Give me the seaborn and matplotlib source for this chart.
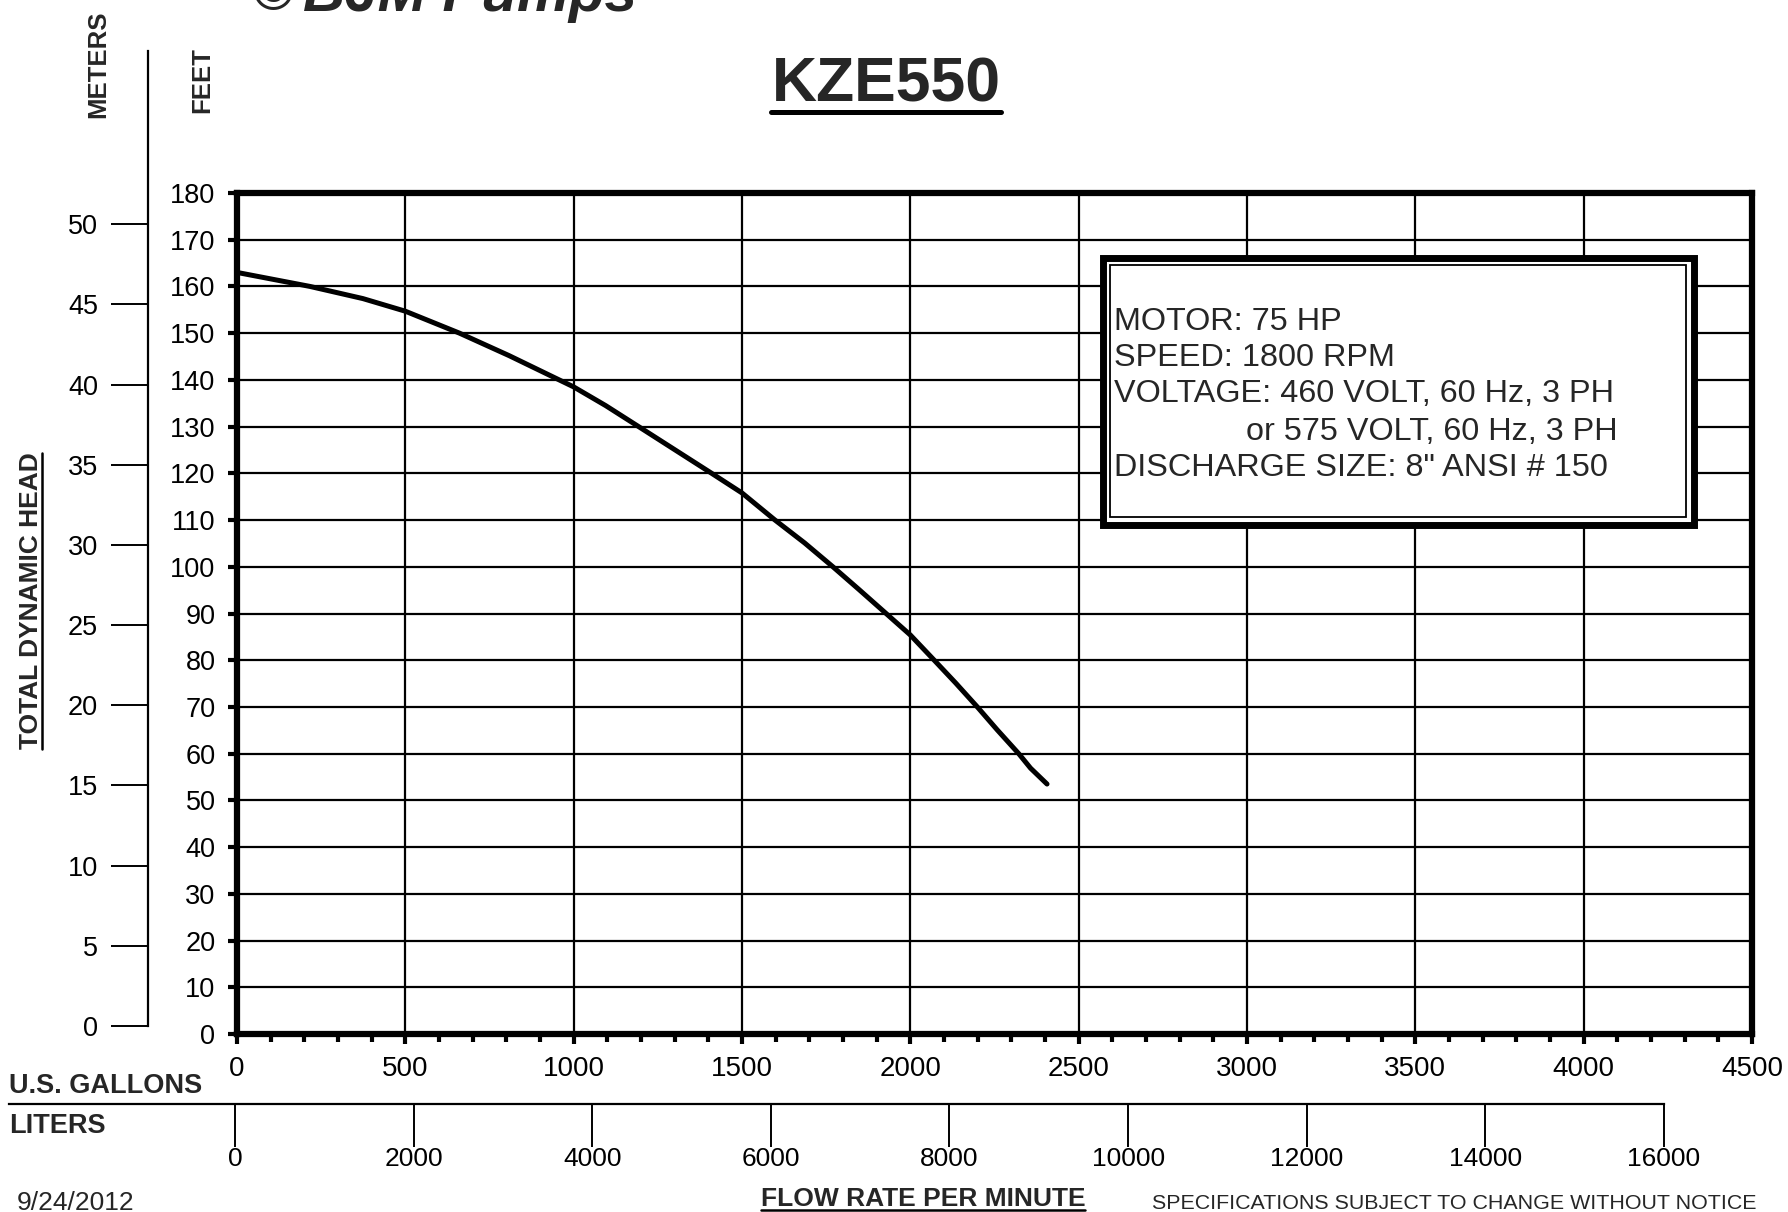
import matplotlib
matplotlib.use("Agg")
import matplotlib.pyplot as plt
from matplotlib import font_manager
from matplotlib.lines import Line2D
from matplotlib.patches import Rectangle
from matplotlib.ticker import MultipleLocator
import seaborn as sns

# pump curve (US gpm vs feet of head)
flow_gpm = [0, 217, 374, 500, 661, 808, 957, 1000, 1095, 1193, 1410, 1500,
            1598, 1686, 1770, 1848, 1928, 2000, 2071, 2135, 2199, 2258,
            2322, 2357, 2406]
head_ft = [163.0, 160.0, 157.4, 154.7, 150.0, 145.2, 140.0, 138.5, 134.5,
           130.0, 120.0, 115.8, 110.0, 105.1, 100.0, 95.1, 90.0, 85.4, 80.0,
           75.1, 70.0, 65.1, 60.0, 56.9, 53.5]

gal_ticks = list(range(0, 4501, 500))
feet_ticks = list(range(0, 181, 10))
meter_ticks = list(range(0, 51, 5))
liter_ticks = list(range(0, 16001, 2000))

title = "KZE550"
spec_lines = ["MOTOR: 75 HP", "SPEED: 1800 RPM", "VOLTAGE: 460 VOLT, 60 Hz, 3 PH",
              "or 575 VOLT, 60 Hz, 3 PH", "DISCHARGE SIZE: 8\" ANSI # 150"]

W, H = 1788, 1212
sns.set_style("white")
plt.rcParams["font.family"] = ["Liberation Sans", "DejaVu Sans"]

names = {f.name for f in font_manager.fontManager.ttflist}
if "Liberation Sans Narrow" in names:
    NARROW, nscale = ["Liberation Sans Narrow", "Liberation Sans"], 1.15
else:
    NARROW, nscale = ["Liberation Sans", "DejaVu Sans"], 1.0


def fx(px):
    return px / W


def fy(py):
    return 1 - py / H


fig = plt.figure(figsize=(W / 100, H / 100), dpi=100)

# ── main chart ──────────────────────────────────────────────────────────────
ax = fig.add_axes([fx(237), fy(1034), fx(1752) - fx(237), fy(193) - fy(1034)])
sns.lineplot(x=flow_gpm, y=head_ft, ax=ax, color="black", lw=3.6, sort=True)
ax.set_xlim(0, 4500)
ax.set_ylim(0, 180)
ax.set_xticks(gal_ticks)
ax.set_yticks(feet_ticks)
ax.xaxis.set_minor_locator(MultipleLocator(100))
ax.grid(True, which="major", color="black", lw=1.6)
for s in ax.spines.values():
    s.set_linewidth(4.5)
    s.set_color("black")
ax.tick_params(axis="y", left=True, direction="out", length=6.5, width=3, pad=9,
               labelsize=19.5, colors="black")
ax.tick_params(axis="x", which="major", bottom=True, direction="out", length=7, width=3, pad=9,
               labelsize=20 * nscale, colors="black")
ax.tick_params(axis="x", which="minor", bottom=True, direction="out", length=6, width=3, colors="black")
for lab in ax.get_xticklabels():
    lab.set_family(NARROW)
ax.set_xlabel("")
ax.set_ylabel("")

# spec box
fig.add_artist(Rectangle((fx(1102.5), fy(524.5)), fx(1693.5) - fx(1102.5), fy(257.5) - fy(524.5),
                         transform=fig.transFigure, facecolor="white", edgecolor="black", lw=5, zorder=3))
fig.add_artist(Rectangle((fx(1110), fy(517)), fx(1686) - fx(1110), fy(265) - fy(517),
                         transform=fig.transFigure, facecolor="none", edgecolor="black", lw=1.3, zorder=4))
box_x = [1114, 1114, 1114, 1246, 1114]
box_y = [318, 355, 391, 429, 465]
for txt, bx, by in zip(spec_lines, box_x, box_y):
    fig.text(fx(bx), fy(by + 11.5), txt, fontsize=23.3, ha="left", va="baseline", zorder=5)

# ── meters scale ────────────────────────────────────────────────────────────
axm = fig.add_axes([fx(148), fy(1026), 0.01, fy(51) - fy(1026)])
axm.set_facecolor("none")
axm.set_ylim(0, 60.8)
axm.set_yticks(meter_ticks)
axm.set_xticks([])
for k in ["top", "right", "bottom"]:
    axm.spines[k].set_visible(False)
axm.spines["left"].set_linewidth(1.6)
axm.spines["left"].set_color("black")
axm.tick_params(axis="y", left=True, direction="out", length=27, width=1.4, pad=9,
                labelsize=19.5, colors="black")

# ── liters scale ────────────────────────────────────────────────────────────
axl = fig.add_axes([fx(9), fy(1135), fx(1664) - fx(9), fy(1104) - fy(1135)])
axl.set_facecolor("none")
axl.set_xlim(-16000 * (235 - 9) / (1664 - 235), 16000)
axl.set_xticks(liter_ticks)
axl.set_yticks([])
for k in ["left", "right", "bottom"]:
    axl.spines[k].set_visible(False)
axl.spines["top"].set_linewidth(1.6)
axl.spines["top"].set_color("black")
axl.tick_params(axis="x", top=True, bottom=False, labeltop=False, labelbottom=True,
                direction="in", length=31, width=1.4, pad=9, labelsize=19 * nscale, colors="black")
for lab in axl.get_xticklabels():
    lab.set_family(NARROW)

# ── texts ───────────────────────────────────────────────────────────────────
fig.text(fx(303), fy(11), "BJM Pumps", fontsize=42, fontweight="bold", fontstyle="italic",
         ha="left", va="baseline")
fig.text(fx(252), fy(10), "\u00a9", fontsize=40, fontweight="bold", ha="left", va="baseline")

t_title = fig.text(fx(886), fy(102), title, fontsize=45, fontweight="bold", ha="center", va="baseline")
fig.text(fx(98), fy(64), "METERS", fontsize=18.5, fontweight="bold", rotation=90, ha="center", va="center")
fig.text(fx(202), fy(80), "FEET", fontsize=18.5, fontweight="bold", rotation=90, ha="center", va="center")
t_tdh = fig.text(fx(31), fy(601), "TOTAL DYNAMIC HEAD", fontsize=19 * nscale, family=NARROW,
                 fontweight="bold", rotation=90, ha="center", va="center")
fig.text(fx(9), fy(1093), "U.S. GALLONS", fontsize=19.5 * nscale, family=NARROW, fontweight="bold",
         ha="left", va="baseline")
fig.text(fx(9), fy(1133), "LITERS", fontsize=19.5 * nscale, family=NARROW, fontweight="bold",
         ha="left", va="baseline")
t_flow = fig.text(fx(923), fy(1206), "FLOW RATE PER MINUTE", fontsize=19 * nscale, family=NARROW,
                  fontweight="bold", ha="center", va="baseline")
fig.text(fx(1152), fy(1209), "SPECIFICATIONS SUBJECT TO CHANGE WITHOUT NOTICE",
         fontsize=15.4 * nscale, family=NARROW, ha="left", va="baseline")
fig.text(fx(17), fy(1210), "9/24/2012", fontsize=19, ha="left", va="baseline")

# underlines
fig.canvas.draw()
r = fig.canvas.get_renderer()
e = t_title.get_window_extent(r)
fig.add_artist(Line2D([e.x0 / W, e.x1 / W], [fy(112)] * 2, transform=fig.transFigure, color="black", lw=3.6))
e = t_flow.get_window_extent(r)
fig.add_artist(Line2D([e.x0 / W, e.x1 / W], [fy(1210)] * 2, transform=fig.transFigure, color="black", lw=1.8))
e = t_tdh.get_window_extent(r)
fig.add_artist(Line2D([fx(42)] * 2, [e.y0 / H, e.y1 / H], transform=fig.transFigure, color="black", lw=1.8))

fig.savefig("out.png", dpi=100)
